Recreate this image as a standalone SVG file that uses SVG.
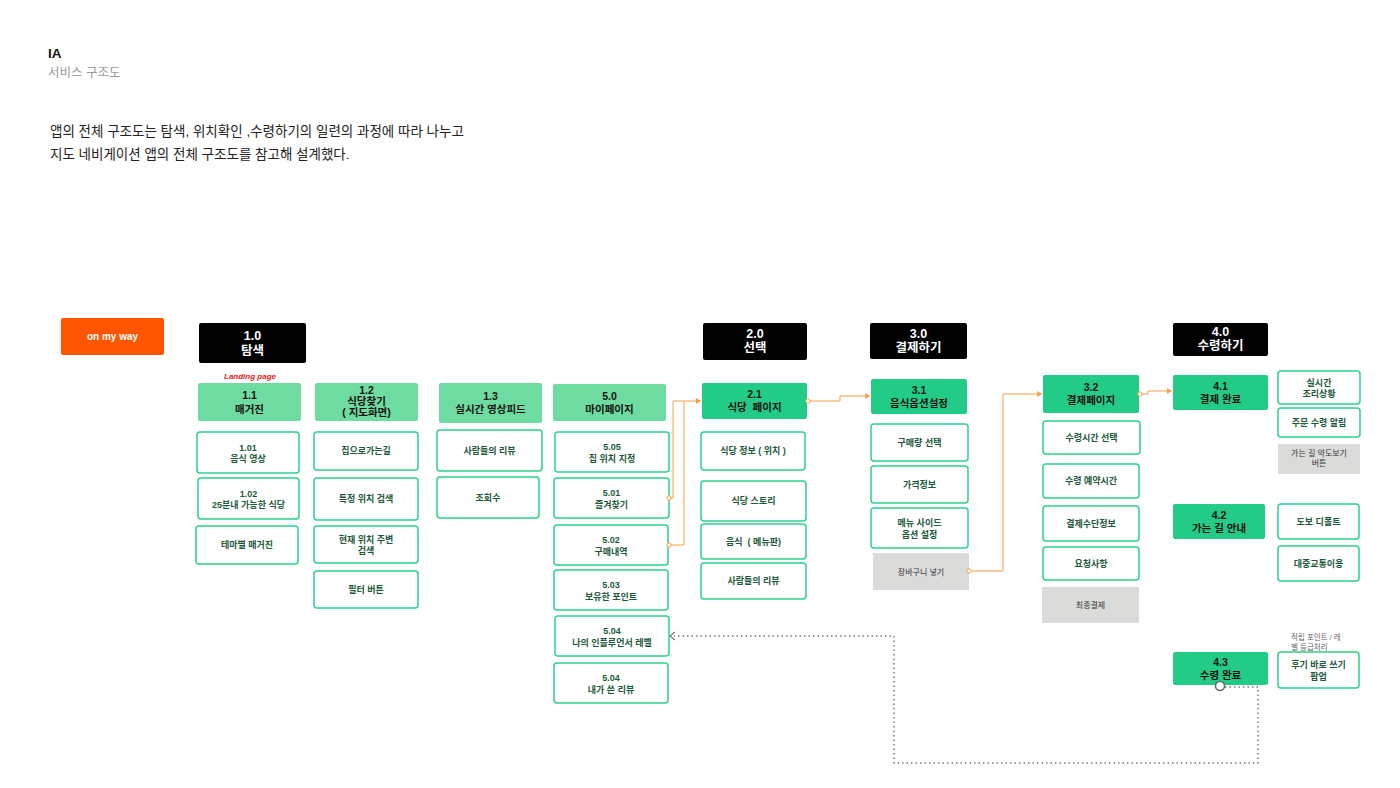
<svg xmlns="http://www.w3.org/2000/svg" width="1400" height="788" viewBox="0 0 1400 788">
<defs>
<style>
text{font-family:"Liberation Sans","Noto Sans CJK KR",sans-serif;}
.hdr{fill:#000;}
.hdrt{fill:#fff;font-size:12.5px;font-weight:bold;text-anchor:middle;}
.lg{fill:#6EDBA0;}
.dg{fill:#22CC87;}
.gt{fill:#111;font-size:10.5px;font-weight:bold;text-anchor:middle;}
.wn{fill:#fff;stroke:#2ED18C;stroke-width:1.5;}
.wt{fill:#1C5A3A;font-size:9px;font-weight:bold;text-anchor:middle;}
.gr{fill:#DBDBD9;}
.grt{fill:#333;font-size:8px;text-anchor:middle;}
.oc{fill:none;stroke:#F5A04A;stroke-width:1;}
.ocd{fill:#fff;stroke:#F5A04A;stroke-width:1;}
.dot{fill:none;stroke:#777;stroke-width:1.5;stroke-dasharray:1.5 3;}
</style>
<marker id="oa" markerWidth="6" markerHeight="6" refX="5" refY="3" orient="auto" markerUnits="userSpaceOnUse">
<path d="M0,0 L5,3 L0,6 Z" fill="#F5A04A"/>
</marker>
</defs>
<rect width="1400" height="788" fill="#fff"/>

<g id="header">
<text x="48" y="58" font-size="13.5" font-weight="bold" fill="#111">IA</text>
<text x="48" y="77" font-size="12.5" fill="#999">서비스 구조도</text>
<text x="50" y="136" font-size="13.5" fill="#222">앱의 전체 구조도는 탐색, 위치확인 ,수령하기의 일련의 과정에 따라 나누고</text>
<text x="50" y="159" font-size="13.5" fill="#222">지도 네비게이션 앱의 전체 구조도를 참고해 설계했다.</text>
</g>

<g id="n-onmyway"><rect x="61" y="318" width="103" height="37" rx="2" fill="#FF5500"/><text x="112.5" y="340" font-size="10" font-weight="bold" fill="#fff" text-anchor="middle">on my way</text></g>

<g id="n-1-0"><rect class="hdr" x="199" y="323" width="107" height="40" rx="2"/><text class="hdrt" x="252.5" y="340">1.0</text><text class="hdrt" x="252.5" y="355">탐색</text></g>
<g id="n-landing"><text x="250" y="379" font-size="8" font-weight="bold" font-style="italic" fill="#E8201A" text-anchor="middle">Landing page</text></g>
<g id="n-1-1"><rect class="lg" x="198" y="383" width="103" height="38" rx="2"/><text class="gt" x="249.5" y="399">1.1</text><text class="gt" x="249.5" y="413">매거진</text></g>
<g id="n-1-01"><rect class="wn" x="197" y="432" width="102" height="41" rx="3"/><text class="wt" x="248" y="450.5">1.01</text><text class="wt" x="248" y="462">음식 영상</text></g>
<g id="n-1-02"><rect class="wn" x="198" y="478" width="101" height="41" rx="3"/><text class="wt" x="248.5" y="496.5">1.02</text><text class="wt" x="248.5" y="508">25분내 가능한 식당</text></g>
<g id="n-1-03"><rect class="wn" x="196" y="526" width="102" height="38" rx="3"/><text class="wt" x="247" y="548">테마별 매거진</text></g>

<g id="n-1-2"><rect class="lg" x="315" y="383" width="103" height="38" rx="2"/><text class="gt" x="366.5" y="394" font-size="10">1.2</text><text class="gt" x="366.5" y="405" font-size="10">식당찾기</text><text class="gt" x="366.5" y="416" font-size="10">( 지도화면)</text></g>
<g id="n-1-21"><rect class="wn" x="314" y="432" width="104" height="38" rx="3"/><text class="wt" x="366" y="454">집으로가는길</text></g>
<g id="n-1-22"><rect class="wn" x="314" y="478" width="104" height="42" rx="3"/><text class="wt" x="366" y="502">특정 위치 검색</text></g>
<g id="n-1-23"><rect class="wn" x="314" y="526" width="104" height="37" rx="3"/><text class="wt" x="366" y="542.5">현재 위치 주변</text><text class="wt" x="366" y="554">검색</text></g>
<g id="n-1-24"><rect class="wn" x="314" y="571" width="104" height="37" rx="3"/><text class="wt" x="366" y="592.5">필터 버튼</text></g>

<g id="n-1-3"><rect class="lg" x="439" y="383" width="103" height="40" rx="2"/><text class="gt" x="490.5" y="400">1.3</text><text class="gt" x="490.5" y="413">실시간 영상피드</text></g>
<g id="n-1-31"><rect class="wn" x="437" y="430" width="105" height="41" rx="3"/><text class="wt" x="489.5" y="453.5">사람들의 리뷰</text></g>
<g id="n-1-32"><rect class="wn" x="437" y="477" width="102" height="41" rx="3"/><text class="wt" x="488" y="500.5">조회수</text></g>

<g id="n-5-0"><rect class="lg" x="553" y="384" width="113" height="37" rx="2"/><text class="gt" x="609.5" y="399.5">5.0</text><text class="gt" x="609.5" y="412.5">마이페이지</text></g>
<g id="n-5-05"><rect class="wn" x="555" y="432" width="114" height="40" rx="3"/><text class="wt" x="612" y="450">5.05</text><text class="wt" x="612" y="461.5">집 위치 지정</text></g>
<g id="n-5-01"><rect class="wn" x="554" y="478" width="115" height="40" rx="3"/><text class="wt" x="611.5" y="496">5.01</text><text class="wt" x="611.5" y="507.5">즐겨찾기</text></g>
<g id="n-5-02"><rect class="wn" x="554" y="525" width="114" height="40" rx="3"/><text class="wt" x="611" y="543">5.02</text><text class="wt" x="611" y="554.5">구매내역</text></g>
<g id="n-5-03"><rect class="wn" x="554" y="570" width="114" height="40" rx="3"/><text class="wt" x="611" y="588">5.03</text><text class="wt" x="611" y="599.5">보유한 포인트</text></g>
<g id="n-5-04a"><rect class="wn" x="555" y="616" width="114" height="40" rx="3"/><text class="wt" x="612" y="634">5.04</text><text class="wt" x="612" y="645.5">나의 인플루언서 레벨</text></g>
<g id="n-5-04b"><rect class="wn" x="554" y="663" width="114" height="40" rx="3"/><text class="wt" x="611" y="681">5.04</text><text class="wt" x="611" y="692.5">내가 쓴 리뷰</text></g>

<g id="n-2-0"><rect class="hdr" x="703" y="323" width="104" height="37" rx="2"/><text class="hdrt" x="755" y="338">2.0</text><text class="hdrt" x="755" y="352">선택</text></g>
<g id="n-2-1"><rect class="dg" x="702" y="383" width="105" height="36" rx="2"/><text class="gt" x="754.5" y="398">2.1</text><text class="gt" x="754.5" y="411" xml:space="preserve">식당  페이지</text></g>
<g id="n-2-11"><rect class="wn" x="701" y="432" width="104" height="38" rx="3"/><text class="wt" x="753" y="454">식당 정보 ( 위치 )</text></g>
<g id="n-2-12"><rect class="wn" x="701" y="481" width="105" height="40" rx="3"/><text class="wt" x="753.5" y="504">식당 스토리</text></g>
<g id="n-2-13"><rect class="wn" x="701" y="524" width="105" height="35" rx="3"/><text class="wt" x="753.5" y="544.5" xml:space="preserve">음식  ( 메뉴판)</text></g>
<g id="n-2-14"><rect class="wn" x="701" y="563" width="105" height="36" rx="3"/><text class="wt" x="753.5" y="584">사람들의 리뷰</text></g>

<g id="n-3-0"><rect class="hdr" x="870" y="323" width="97" height="36" rx="2"/><text class="hdrt" x="918.5" y="337.5">3.0</text><text class="hdrt" x="918.5" y="351.5">결제하기</text></g>
<g id="n-3-1"><rect class="dg" x="871" y="379" width="96" height="35" rx="2"/><text class="gt" x="919" y="393.5">3.1</text><text class="gt" x="919" y="406.5">음식옵션설정</text></g>
<g id="n-3-11"><rect class="wn" x="871" y="424" width="97" height="37" rx="3"/><text class="wt" x="919.5" y="445.5">구매량 선택</text></g>
<g id="n-3-12"><rect class="wn" x="871" y="466" width="97" height="37" rx="3"/><text class="wt" x="919.5" y="487.5">가격정보</text></g>
<g id="n-3-13"><rect class="wn" x="871" y="508" width="97" height="40" rx="3"/><text class="wt" x="919.5" y="526">메뉴 사이드</text><text class="wt" x="919.5" y="537.5">옵션 설정</text></g>
<g id="n-3-14"><rect class="gr" x="873" y="553" width="96" height="37"/><text class="grt" x="921" y="574.5">장바구니 넣기</text></g>

<g id="n-3-2"><rect class="dg" x="1043" y="375" width="96" height="38" rx="2"/><text class="gt" x="1091" y="391">3.2</text><text class="gt" x="1091" y="404">결제페이지</text></g>
<g id="n-3-21"><rect class="wn" x="1043" y="421" width="97" height="33" rx="3"/><text class="wt" x="1091.5" y="440.5">수령시간 선택</text></g>
<g id="n-3-22"><rect class="wn" x="1043" y="464" width="96" height="34" rx="3"/><text class="wt" x="1091" y="484">수령 예약시간</text></g>
<g id="n-3-23"><rect class="wn" x="1043" y="506" width="96" height="35" rx="3"/><text class="wt" x="1091" y="526.5">결제수단정보</text></g>
<g id="n-3-24"><rect class="wn" x="1043" y="547" width="96" height="33" rx="3"/><text class="wt" x="1091" y="566.5">요청사항</text></g>
<g id="n-3-25"><rect class="gr" x="1042" y="587" width="97" height="36"/><text class="grt" x="1090.5" y="608">최종결제</text></g>

<g id="n-4-0"><rect class="hdr" x="1173" y="323" width="95" height="33" rx="2"/><text class="hdrt" x="1220.5" y="336">4.0</text><text class="hdrt" x="1220.5" y="350">수령하기</text></g>
<g id="n-4-1"><rect class="dg" x="1173" y="375" width="95" height="35" rx="2"/><text class="gt" x="1220.5" y="389.5">4.1</text><text class="gt" x="1220.5" y="402.5">결제 완료</text></g>
<g id="n-4-11"><rect class="wn" x="1278" y="371" width="82" height="33" rx="3"/><text class="wt" x="1319" y="385.5">실시간</text><text class="wt" x="1319" y="397">조리상황</text></g>
<g id="n-4-12"><rect class="wn" x="1278" y="408" width="82" height="29" rx="3"/><text class="wt" x="1319" y="425.5">주문 수령 알림</text></g>
<g id="n-4-13"><rect class="gr" x="1278" y="444" width="82" height="30"/><text class="grt" x="1319" y="456" font-size="7.5">가는 길 약도보기</text><text class="grt" x="1319" y="466" font-size="7.5">버튼</text></g>
<g id="n-4-2"><rect class="dg" x="1173" y="504" width="92" height="35" rx="2"/><text class="gt" x="1219" y="518.5">4.2</text><text class="gt" x="1219" y="531.5">가는 길 안내</text></g>
<g id="n-4-21"><rect class="wn" x="1278" y="504" width="81" height="35" rx="3"/><text class="wt" x="1318.5" y="524.5">도보 디폴트</text></g>
<g id="n-4-22"><rect class="wn" x="1278" y="546" width="81" height="35" rx="3"/><text class="wt" x="1318.5" y="566.5">대중교통이용</text></g>
<g id="n-4-3"><rect class="dg" x="1173" y="652" width="95" height="33" rx="2"/><text class="gt" x="1220.5" y="665.5">4.3</text><text class="gt" x="1220.5" y="678.5">수령 완료</text></g>
<g id="n-4-31"><rect class="wn" x="1278" y="652" width="81" height="36" rx="3"/><text class="wt" x="1318.5" y="668">후기 바로 쓰기</text><text class="wt" x="1318.5" y="679.5">팝업</text></g>
<g id="n-note"><text x="1291" y="640" font-size="7.5" fill="#666">적립 포인트 / 레</text><text x="1291" y="650" font-size="7.5" fill="#666">벨 등급처리</text></g>

<g id="connectors">
<path class="oc" d="M669,498 H673 V401 H701" marker-end="url(#oa)"/>
<path class="oc" d="M669,545 H684 V401"/>
<circle class="ocd" cx="669" cy="498" r="2.2"/>
<circle class="ocd" cx="669" cy="545" r="2.2"/>
<path class="oc" d="M808,401 H840 V396 H870" marker-end="url(#oa)"/>
<circle class="ocd" cx="808" cy="401" r="2.2"/>
<path class="oc" d="M969,571 H1003 V394 H1042" marker-end="url(#oa)"/>
<circle class="ocd" cx="969" cy="571" r="2.2"/>
<path class="oc" d="M1140,394 H1148 V391 H1172" marker-end="url(#oa)"/>
<circle class="ocd" cx="1140" cy="394" r="2.2"/>
<path class="dot" d="M1225,687 H1258 V763 H894 V636 H674"/>
<path d="M675,632 L670,636 L675,640" fill="none" stroke="#777" stroke-width="1.2"/>
<circle cx="1220" cy="686" r="4.5" fill="#fff" stroke="#666" stroke-width="1.5"/>
</g>
</svg>
